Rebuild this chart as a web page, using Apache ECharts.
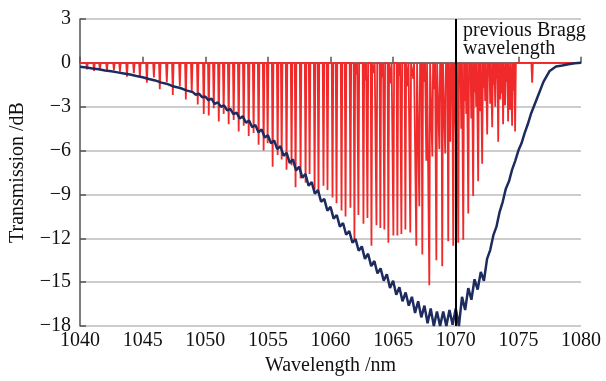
<!DOCTYPE html>
<html>
<head>
<meta charset="utf-8">
<script src="https://cdn.jsdelivr.net/npm/echarts@6/dist/echarts.min.js"></script>
<style>
  html, body { margin: 0; padding: 0; background: #fff; }
  #chart { width: 606px; height: 381px; }
</style>
</head>
<body>
<div id="chart"></div>
<script>
// axis ticks
const xTicks = [1040, 1045, 1050, 1055, 1060, 1065, 1070, 1075, 1080]
const yTicks = [-18, -15, -12, -9, -6, -3, 0, 3]
const braggWavelength = 1070

// red comb: main dips (wavelength nm, depth dB)
const mainDipNm = [
  1040.56, 1041.12, 1041.59, 1042.15, 1042.71, 1043.19, 1043.75, 1044.30, 1044.78, 1045.34,
  1045.90, 1046.37, 1046.93, 1047.41, 1047.97, 1048.45, 1048.92, 1049.40, 1049.88,
  1050.28, 1050.68, 1051.08, 1051.47, 1051.87, 1052.27, 1052.67, 1053.07, 1053.47, 1053.86,
  1054.26, 1054.66, 1054.98, 1055.38, 1055.78, 1056.10, 1056.49, 1056.89, 1057.21, 1057.61,
  1058.01, 1058.33, 1058.73, 1059.04, 1059.44, 1059.76, 1060.16, 1060.48, 1060.88, 1061.20,
  1061.59, 1061.91, 1062.23, 1062.63, 1062.95, 1063.27, 1063.67, 1063.98, 1064.30, 1064.62,
  1065.02, 1065.34,
  1065.66, 1065.98, 1066.37, 1066.85, 1067.33, 1067.89, 1068.45, 1068.92, 1069.40, 1069.80,
  1070.20, 1070.60, 1071.00, 1071.39, 1071.79, 1072.11, 1072.51, 1072.91, 1073.39, 1073.78,
  1074.18, 1074.50, 1074.74
]
const mainDipDb = [
  -0.45, -0.55, -0.5, -0.55, -0.5, -0.6, -0.95, -0.7, -1.0, -1.35,
  -1.0, -1.8, -1.3, -2.2, -1.6, -2.5, -2.0, -2.85, -3.5,
  -3.6, -3.1, -4.0, -3.5, -4.2, -3.9, -4.7, -4.3, -5.0, -4.8,
  -5.6, -6.0, -5.5, -7.1, -6.3, -6.6, -7.3, -7.0, -8.5, -7.9,
  -8.2, -7.6, -8.7, -8.9, -8.4, -8.7, -9.2, -9.6, -10.1, -10.5,
  -9.9, -12.1, -10.4, -11.0, -10.6, -12.5, -11.1, -11.3, -11.4, -12.3,
  -11.8, -11.8,
  -11.7, -11.4, -11.6, -12.5, -13.1, -15.2, -13.5, -13.9, -12.2, -12.5,
  -12.3, -12.1, -10.3, -9.1, -8.1, -6.9, -4.9, -4.4, -5.4, -4.2,
  -4.0, -4.3, -4.7
]

// shallower dips interleaved on the long-wavelength side
const shallowDipNm = [
  1067.09, 1067.65, 1068.13, 1068.69, 1069.16, 1069.56, 1070.04, 1070.44, 1070.84, 1071.24,
  1071.63, 1071.95, 1072.35, 1072.75, 1073.15, 1073.55, 1073.94, 1074.34, 1076.10
]
const shallowDipDb = [
  -9.8, -6.7, -6.4, -5.9, -6.2, -5.4, -5.8, -4.5, -3.5, -3.8,
  -3.0, -3.3, -2.6, -2.8, -3.0, -2.5, -2.9, -3.2, -1.35
]

// small dips filling the top of the comb
const tinyDipNm = [
  1062.07, 1062.79, 1063.47, 1064.14, 1064.82, 1065.50, 1066.17, 1066.61, 1067.21, 1067.49,
  1068.29, 1068.80, 1069.28, 1069.66, 1070.32, 1070.72, 1071.12, 1071.51, 1071.87, 1072.23,
  1072.63, 1073.03, 1073.27, 1073.66, 1074.06, 1074.62
]
const tinyDipDb = [
  -0.8, -1.2, -0.7, -1.0, -1.4, -0.9, -1.6, -1.1, -2.0, -1.3,
  -1.8, -2.4, -1.2, -2.2, -1.5, -2.6, -1.0, -2.0, -1.4, -1.7,
  -0.9, -1.5, -1.1, -2.1, -1.3, -1.9
]

// broad (dark blue) transmission dip
const blueNm = [
  1040, 1040.5, 1041, 1041.5, 1042, 1042.5, 1043, 1043.5, 1044, 1044.5,
  1045, 1045.5, 1046, 1046.5, 1047, 1047.5, 1048, 1048.5, 1049, 1049.25,
  1049.5, 1049.75, 1050, 1050.25, 1050.5, 1050.75, 1051, 1051.25, 1051.5, 1051.75,
  1052, 1052.25, 1052.5, 1052.75, 1053, 1053.25, 1053.5, 1053.75, 1054, 1054.25,
  1054.5, 1054.75, 1055, 1055.25, 1055.5, 1055.75, 1056, 1056.25, 1056.5, 1056.75,
  1057, 1057.25, 1057.5, 1057.75, 1058, 1058.25, 1058.5, 1058.75, 1059, 1059.25,
  1059.5, 1059.75, 1060, 1060.25, 1060.5, 1060.75, 1061, 1061.25, 1061.5, 1061.75,
  1062, 1062.25, 1062.5, 1062.75, 1063, 1063.25, 1063.5, 1063.75, 1064, 1064.25,
  1064.5, 1064.75, 1065, 1065.25, 1065.5, 1065.75, 1066, 1066.25, 1066.5, 1066.75,
  1067, 1067.25, 1067.5, 1067.75, 1068, 1068.25, 1068.5, 1068.75, 1069, 1069.25,
  1069.5, 1069.75, 1070, 1070.25, 1070.5, 1070.75, 1071, 1071.25, 1071.5, 1071.75,
  1072, 1072.25, 1072.5, 1072.75, 1073, 1073.25, 1073.5, 1073.75, 1074, 1074.25,
  1074.5, 1074.75, 1075, 1075.25, 1075.5, 1075.75, 1076, 1076.5, 1077, 1077.5,
  1078, 1078.5, 1079, 1079.5, 1080
]
const blueDb = [
  -0.27, -0.32, -0.38, -0.44, -0.52, -0.58, -0.65, -0.72, -0.80, -0.90,
  -0.98, -1.10, -1.20, -1.35, -1.45, -1.62, -1.72, -1.88, -2.00, -2.18,
  -2.10, -2.35, -2.30, -2.55, -2.45, -2.80, -2.70, -3.00, -2.90, -3.25,
  -3.15, -3.50, -3.40, -3.80, -3.65, -4.10, -3.95, -4.40, -4.25, -4.75,
  -4.55, -5.10, -4.95, -5.50, -5.30, -5.90, -5.70, -6.35, -6.15, -6.85,
  -6.60, -7.35, -7.10, -7.85, -7.60, -8.40, -8.15, -8.95, -8.70, -9.50,
  -9.30, -10.10, -9.85, -10.65, -10.40, -11.20, -10.95, -11.75, -11.50, -12.30,
  -12.05, -12.85, -12.55, -13.40, -13.05, -13.90, -13.55, -14.40, -14.05, -14.90,
  -14.45, -15.40, -14.90, -15.85, -15.35, -16.30, -15.70, -16.60, -16.00, -17.10,
  -16.30, -17.40, -16.60, -17.80, -16.80, -18.00, -17.00, -18.00, -17.00, -18.00,
  -16.90, -17.90, -16.80, -18.00, -16.00, -16.90, -15.40, -16.20, -14.80, -15.50,
  -14.30, -14.90, -13.40, -12.80, -11.80, -11.20, -10.20, -9.50, -8.60, -8.10,
  -7.30, -6.70, -6.00, -5.50, -4.80, -4.20, -3.50, -2.40, -1.30, -0.55,
  -0.25, -0.18, -0.10, -0.03, 0
]

const serif = '"Liberation Serif", "DejaVu Serif", serif'
const dipHalfWidth = 0.06

// build the red comb line: flat at 0 dB with a narrow V at each dip
const dips = []
mainDipNm.forEach((x, i) => dips.push([x, mainDipDb[i]]))
shallowDipNm.forEach((x, i) => dips.push([x, shallowDipDb[i]]))
tinyDipNm.forEach((x, i) => dips.push([x, tinyDipDb[i]]))
dips.sort((a, b) => a[0] - b[0])

const redData = [[1040, 0]]
dips.forEach(([x, d]) => {
  redData.push([x - dipHalfWidth, 0], [x, d], [x + dipHalfWidth, 0])
})
redData.push([1080, 0])

const blueData = blueNm.map((x, i) => [x, blueDb[i]])

const chart = echarts.init(document.getElementById('chart'))

chart.setOption({
  animation: false,
  grid: { left: 79, right: 25, top: 19, bottom: 52 },
  xAxis: {
    type: 'value',
    min: xTicks[0],
    max: xTicks[xTicks.length - 1],
    interval: 5,
    name: 'Wavelength /nm',
    nameLocation: 'middle',
    nameGap: 29,
    nameTextStyle: { fontFamily: serif, fontSize: 20, color: '#111' },
    axisLine: { lineStyle: { color: '#555', width: 1.5 } },
    axisTick: { inside: true, length: 6, lineStyle: { color: '#555', width: 1.5 } },
    axisLabel: {
      fontFamily: serif,
      fontSize: 20,
      color: '#111',
      margin: 5,
      formatter: (v) => String(v),
    },
    splitLine: { show: false },
  },
  yAxis: {
    type: 'value',
    min: yTicks[0],
    max: yTicks[yTicks.length - 1],
    interval: 3,
    name: 'Transmission /dB',
    nameLocation: 'middle',
    nameGap: 52,
    nameTextStyle: { fontFamily: serif, fontSize: 20, color: '#111' },
    axisLine: { show: true, lineStyle: { color: '#555', width: 1.5 } },
    axisTick: { show: true, inside: true, length: 6, lineStyle: { color: '#555', width: 1.5 } },
    axisLabel: {
      fontFamily: serif,
      fontSize: 20,
      color: '#111',
      margin: 9,
      formatter: (v) => String(v).replace('-', '\u2212'),
    },
    splitLine: { lineStyle: { color: '#bdbdbd', width: 1.5 } },
  },
  series: [
    {
      type: 'line',
      data: redData,
      showSymbol: false,
      symbol: 'none',
      lineStyle: { color: '#f02a2a', width: 1.8 },
      z: 2,
      markLine: {
        silent: true,
        symbol: 'none',
        label: { show: false },
        lineStyle: { color: '#000', width: 2, type: 'solid' },
        data: [{ xAxis: braggWavelength }],
      },
    },
    {
      type: 'line',
      data: blueData,
      showSymbol: false,
      symbol: 'none',
      lineStyle: { color: '#1e2b5e', width: 2.5 },
      z: 3,
    },
  ],
  graphic: [
    {
      type: 'text',
      left: 463,
      top: 21,
      style: {
        text: 'previous Bragg\nwavelength',
        font: '20px ' + serif,
        fill: '#111',
        lineHeight: 18,
      },
    },
  ],
})
</script>
</body>
</html>
